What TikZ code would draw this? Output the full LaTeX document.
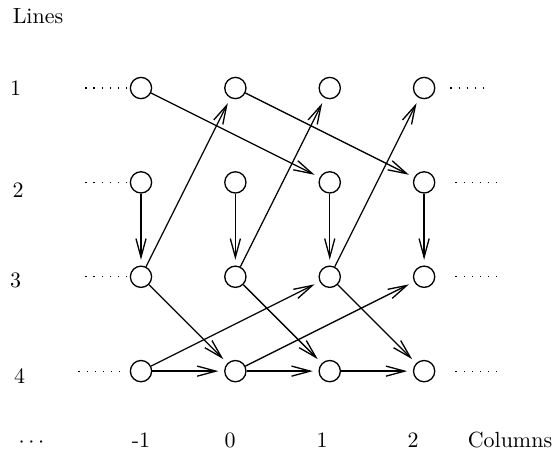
\documentclass[tikz,border=0pt]{standalone}
\usetikzlibrary{arrows.meta,positioning}

\begin{document}
\begin{tikzpicture}[
  >={Straight Barb[length=8.5pt,width=4.6pt]},
  node distance=15.1mm and 15.1mm, on grid,
  site/.style={draw, circle, minimum size=3.4mm, inner sep=0pt, semithick},
  edge/.style={->, semithick, shorten >=2.6pt},
  etc/.style={line width=0.5pt, dash pattern=on 0.6pt off 3.1pt},
  lbl/.style={anchor=base}
]
\useasboundingbox (-2.256,-5.888) rectangle (6.592,1.408);

% sites: s<line><column>, columns -1,0,1,2 -> 1..4
\node[site] (s11) {};
\node[site, right=of s11] (s12) {};
\node[site, right=of s12] (s13) {};
\node[site, right=of s13] (s14) {};
\node[site, below=of s11] (s21) {};
\node[site, right=of s21] (s22) {};
\node[site, right=of s22] (s23) {};
\node[site, right=of s23] (s24) {};
\node[site, below=of s21] (s31) {};
\node[site, right=of s31] (s32) {};
\node[site, right=of s32] (s33) {};
\node[site, right=of s33] (s34) {};
\node[site, below=of s31] (s41) {};
\node[site, right=of s41] (s42) {};
\node[site, right=of s42] (s43) {};
\node[site, right=of s43] (s44) {};

% labels
\node[lbl] (lines) at (-1.648,1.04) {Lines};
\node[lbl] (line1) at (-2.008,-0.112) {1};
\node[lbl] (line2) at (-1.968,-1.744) {2};
\node[lbl] (line3) at (-2.008,-3.184) {3};
\node[lbl] (line4) at (-1.944,-4.72) {4};
\node[lbl] (more) at (-1.752,-5.744) {$\cdots$};
\node[lbl] (colm) at (0,-5.744) {-1};
\node[lbl] (col0) at (1.424,-5.744) {0};
\node[lbl] (col1) at (2.896,-5.744) {1};
\node[lbl] (col2) at (4.352,-5.744) {2};
\node[lbl] (columns) at (5.904,-5.744) {Columns};

% continuation dots
\coordinate[left=7.1mm of s11.west] (w1);
\coordinate[left=7.1mm of s21.west] (w2);
\coordinate[left=7.1mm of s31.west] (w3);
\coordinate[left=8.2mm of s41.west] (w4);
\coordinate[right=2.4mm of s14.east] (e1);
\coordinate[right=3.2mm of s24.east] (e2);
\coordinate[right=3.2mm of s34.east] (e3);
\coordinate[right=3.2mm of s44.east] (e4);
\draw[etc] (w1) -- (s11.west);
\draw[etc] (w2) -- (s21.west);
\draw[etc] (w3) -- (s31.west);
\draw[etc] (w4) -- ([xshift=-1.6mm]s41.west);
\draw[etc] (e1) -- ++(6.4mm,0);
\draw[etc] (e2) -- ++(6.8mm,0);
\draw[etc] (e3) -- ++(6.8mm,0);
\draw[etc] (e4) -- ++(6.8mm,0);

% line 1 -> line 2
\draw[edge] (s11) -- (s23);
\draw[edge] (s12) -- (s24);
% line 2 -> line 3
\draw[edge] (s21) -- (s31);
\draw[edge] (s22) -- (s32);
\draw[edge] (s23) -- (s33);
\draw[edge] (s24) -- (s34);
% line 3 -> line 1
\draw[edge] (s31) -- (s12);
\draw[edge] (s32) -- (s13);
\draw[edge] (s33) -- (s14);
% line 3 -> line 4
\draw[edge] (s31) -- (s42);
\draw[edge] (s32) -- (s43);
\draw[edge] (s33) -- (s44);
% line 4 -> line 3
\draw[edge] (s41) -- (s33);
\draw[edge] (s42) -- (s34);
% line 4
\draw[edge] (s41) -- (s42);
\draw[edge] (s42) -- (s43);
\draw[edge] (s43) -- (s44);
\end{tikzpicture}
\end{document}
